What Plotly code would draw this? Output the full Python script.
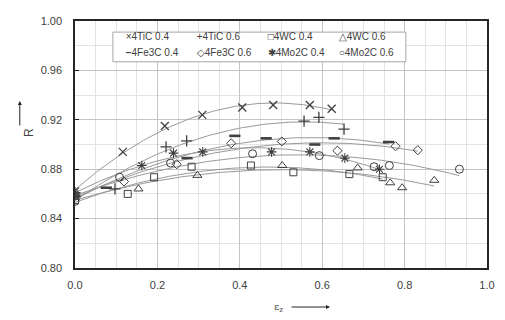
import numpy as np
import plotly.graph_objects as go

# strain values (x) and R values (y) per series
tic04_x = [0.0, 0.116, 0.218, 0.309, 0.406, 0.481, 0.570, 0.623]
tic04_y = [0.862, 0.894, 0.915, 0.924, 0.930, 0.932, 0.932, 0.929]

tic06_x = [0.0, 0.097, 0.221, 0.271, 0.556, 0.592, 0.653]
tic06_y = [0.861, 0.864, 0.898, 0.903, 0.919, 0.922, 0.9125]

wc04_x = [0.0, 0.128, 0.192, 0.283, 0.427, 0.530, 0.666, 0.747]
wc04_y = [0.855, 0.860, 0.8735, 0.882, 0.883, 0.8775, 0.876, 0.8735]

wc06_x = [0.0, 0.154, 0.297, 0.503, 0.686, 0.765, 0.794, 0.872]
wc06_y = [0.857, 0.864, 0.875, 0.883, 0.881, 0.869, 0.865, 0.871]

fe04_x = [0.0, 0.076, 0.272, 0.388, 0.464, 0.582, 0.629, 0.761]
fe04_y = [0.858, 0.865, 0.889, 0.907, 0.905, 0.900, 0.905, 0.902]

fe06_x = [0.0, 0.119, 0.247, 0.379, 0.502, 0.637, 0.778, 0.832]
fe06_y = [0.859, 0.870, 0.884, 0.901, 0.9025, 0.895, 0.8986, 0.8954]

mo04_x = [0.0, 0.162, 0.239, 0.310, 0.477, 0.570, 0.655, 0.739]
mo04_y = [0.860, 0.883, 0.893, 0.894, 0.894, 0.894, 0.889, 0.880]

mo06_x = [0.0, 0.108, 0.232, 0.431, 0.593, 0.726, 0.763, 0.933]
mo06_y = [0.854, 0.8735, 0.885, 0.8925, 0.891, 0.882, 0.883, 0.880]

names = ["4TiC 0.4", "4TiC 0.6", "4WC 0.4", "4WC 0.6",
         "4Fe3C 0.4", "4Fe3C 0.6", "4Mo2C 0.4", "4Mo2C 0.6"]
legend_glyphs = ["\u00d7", "+", "\u25a1", "\u25b3", "<b>\u2212</b>", "\u25c7", "\u2731", "\u25cb"]

series = [(tic04_x, tic04_y), (tic06_x, tic06_y), (wc04_x, wc04_y), (wc06_x, wc06_y),
          (fe04_x, fe04_y), (fe06_x, fe06_y), (mo04_x, mo04_y), (mo06_x, mo06_y)]

# marker style per series: symbol, size, line width
styles = [
    ("x-thin-open", 8, 1.3),
    ("cross-thin-open", 8, 1.3),
    ("square-open", 7, 1.0),
    ("triangle-up-open", 8, 1.0),
    ("line-ew-open", 8, 2.6),
    ("diamond-open", 7, 1.0),
    ("asterisk-open", 8, 1.1),
    ("circle-open", 8, 1.0),
]

MARK = "#404040"
FIT = "#9a9a9a"

fig = go.Figure()

# 2nd order trendlines, like the spreadsheet fits
for (xs, ys) in series:
    coef = np.polyfit(xs, ys, 2)
    xf = np.linspace(0, max(xs), 80)
    fig.add_trace(go.Scatter(x=xf, y=np.polyval(coef, xf), mode="lines",
                             line=dict(color=FIT, width=1), showlegend=False,
                             hoverinfo="skip"))

for (xs, ys), name, (sym, size, lw) in zip(series, names, styles):
    fig.add_trace(go.Scatter(x=xs, y=ys, mode="markers", name=name, showlegend=False,
                             marker=dict(symbol=sym, size=size, color=MARK,
                                         line=dict(color=MARK, width=lw))))

# legend entries: glyph + name, two rows of four
for i, (name, g) in enumerate(zip(names, legend_glyphs)):
    fig.add_trace(go.Scatter(x=[None], y=[None], mode="lines", name=g + name,
                             line=dict(width=0, color="rgba(0,0,0,0)"),
                             legendwidth=60 if i % 4 == 3 else None,
                             legend="legend" if i < 4 else "legend2"))

leg_common = dict(orientation="h", xanchor="left", yanchor="middle",
                  bgcolor="rgba(0,0,0,0)", borderwidth=0,
                  entrywidth=26, entrywidthmode="pixels",
                  font=dict(family="Liberation Sans, Arial", size=10, color=MARK))

# page body has an 8px margin, so the figure is shifted by 8px
fig.update_layout(
    width=497, height=312,
    margin=dict(l=67, r=18, t=7, b=52),
    paper_bgcolor="white", plot_bgcolor="white",
    font=dict(family="Liberation Sans, Arial", size=11, color=MARK),
    legend=dict(x=0.026, y=0.938, **leg_common),
    legend2=dict(x=0.026, y=0.873, **leg_common),
    xaxis=dict(range=[0, 1.0], dtick=0.2, tickformat=".1f",
               showgrid=True, gridcolor="#c4c4c4", gridwidth=1,
               minor=dict(dtick=0.05, showgrid=True, gridcolor="#e3e3e3"),
               showline=True, linecolor="#262626", linewidth=1.5, mirror=True,
               ticks="", ticklabelstandoff=6, zeroline=False, fixedrange=True),
    yaxis=dict(range=[0.8, 1.0], dtick=0.04, tickformat=".2f",
               showgrid=True, gridcolor="#c4c4c4", gridwidth=1,
               minor=dict(dtick=0.02, showgrid=True, gridcolor="#e3e3e3"),
               showline=True, linecolor="#262626", linewidth=1.5, mirror=True,
               ticks="inside", ticklen=4, tickcolor="#262626", ticklabelstandoff=9,
               zeroline=False, fixedrange=True),
    showlegend=True,
)

# legend frame
fig.add_shape(type="rect", xref="paper", yref="paper",
              x0=0.092, x1=0.803, y0=0.835, y1=0.955,
              fillcolor="white", line=dict(color="#a6a6a6", width=1), layer="above")

# axis labels with arrows
fig.add_annotation(xref="paper", yref="paper", x=-0.134, y=0.55, text="R",
                   textangle=-90, showarrow=False, font=dict(size=12, color=MARK))
fig.add_annotation(xref="paper", yref="paper", x=-0.134, y=0.676, ax=0, ay=26,
                   text="", showarrow=True, arrowhead=2, arrowsize=0.8,
                   arrowwidth=1, arrowcolor="#262626")
fig.add_annotation(xref="paper", yref="paper", x=0.495, y=-0.16, yanchor="middle",
                   text="\u03b5<sub>z</sub>", showarrow=False,
                   font=dict(family="DejaVu Serif", size=10, color=MARK))
fig.add_annotation(xref="paper", yref="paper", x=0.619, y=-0.158, ax=-40, ay=0,
                   text="", showarrow=True, arrowhead=2, arrowsize=0.8,
                   arrowwidth=1, arrowcolor="#262626")

fig.write_html("out.html")
